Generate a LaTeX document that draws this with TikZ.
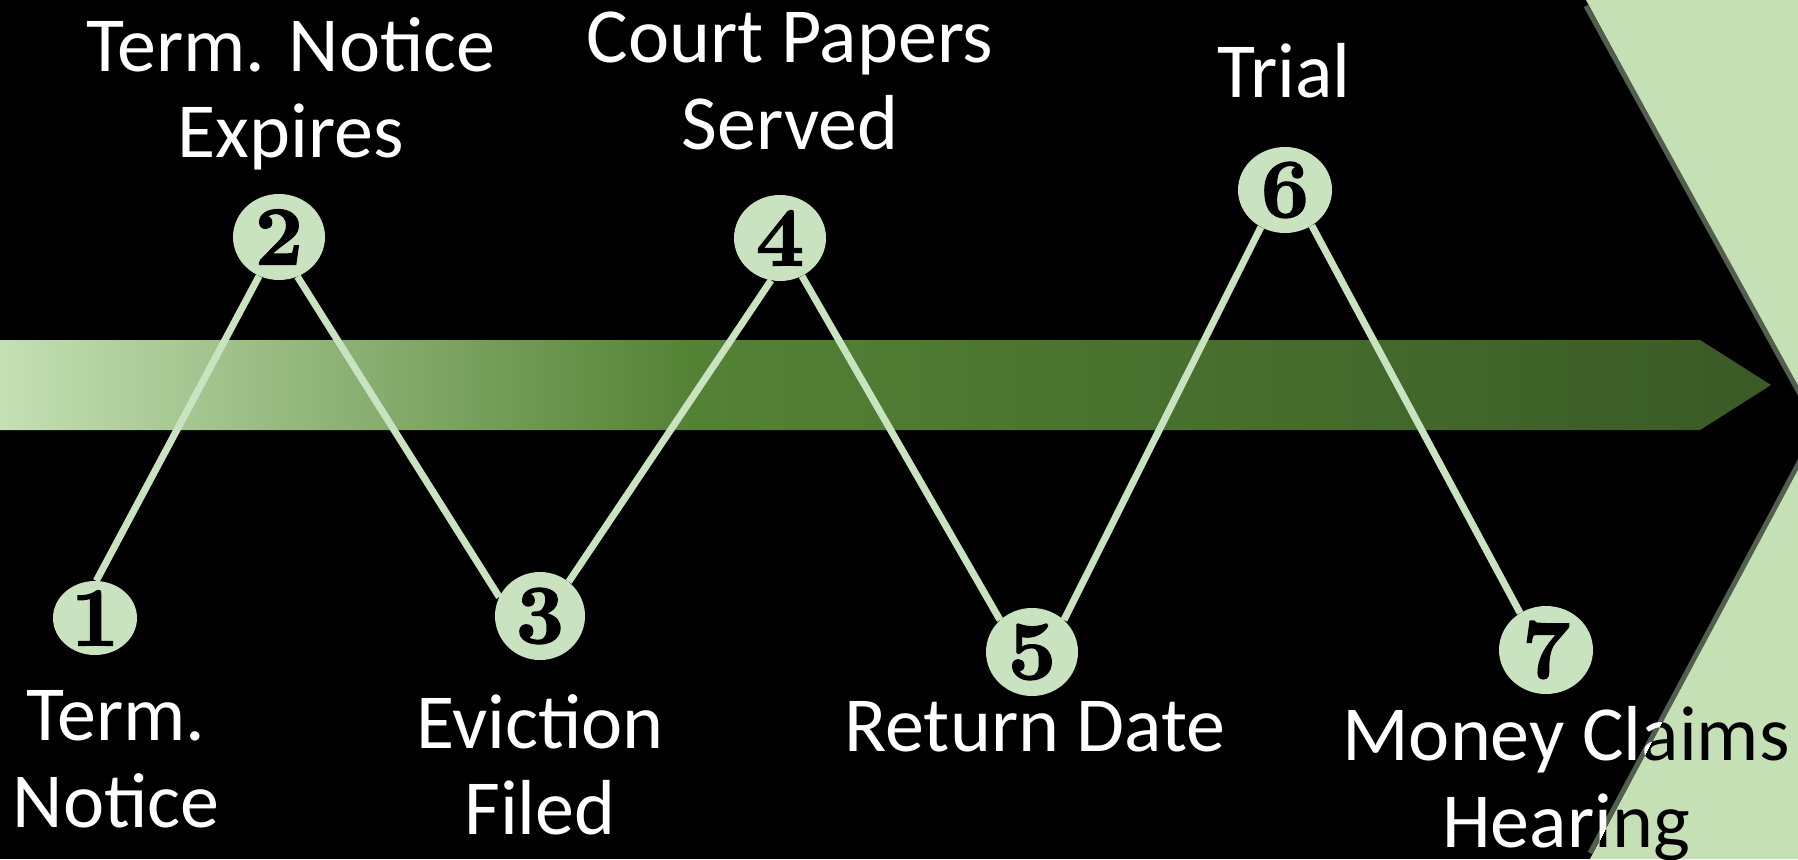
\documentclass[tikz,border=0pt]{standalone}
\usepackage{fontspec}
\setsansfont{Carlito}
\newfontfamily\numfont{lmroman10-bold.otf}[FakeBold=1.6]
\usetikzlibrary{shapes.geometric}

\definecolor{dotgreen}{HTML}{C9E3C1}
\definecolor{chevfill}{HTML}{C5E0B4}
\definecolor{chevedge}{HTML}{525F4E}
\definecolor{bandL}{HTML}{C5E0B4}
\definecolor{bandM}{HTML}{548235}
\definecolor{bandD}{HTML}{3A5A26}

% band colour runs light -> mid green -> dark green from left to right
\pgfdeclarehorizontalshading{bandshade}{100bp}{color(0bp)=(bandL); color(25bp)=(bandL); color(44.5bp)=(bandM); color(75bp)=(bandD); color(100bp)=(bandD)}

\pgfdeclarelayer{back}
\pgfdeclarelayer{links}
\pgfsetlayers{back,links,main}

\begin{document}
\begin{tikzpicture}[x=1pt,y=-1pt,
  caption/.style={text=white, font=\sffamily\fontsize{78}{87}\selectfont, anchor=base, inner sep=0pt},
  captiondark/.style={caption, text=black},
  stepdot/.style={ellipse, fill=dotgreen, inner sep=0pt},
  stepnum/.style={font=\numfont\fontsize{84}{84}\selectfont, text=black, inner sep=0pt},
  link/.style={draw=dotgreen, line width=7pt}]

\useasboundingbox (0,0) rectangle (1798,859);

% chevron corners at the right edge
\coordinate (chtop) at (1586,0);
\coordinate (chtip) at (1818,427);
\coordinate (chbot) at (1590,859);

\begin{pgfonlayer}{back}
  \clip (0,0) rectangle (1798,859);
  \fill[black] (0,0) rectangle (1798,859);
  % timeline band with its pointed end
  \shade[shading=bandshade] (0,340) -- (1700,340) -- (1771,385) -- (1700,430) -- (0,430) -- cycle;
  % chevron
  \fill[chevfill] (chtop) -- (chtip) -- (chbot) -- (1900,859) -- (1900,0) -- cycle;
  \draw[chevedge, line width=5pt] ([yshift=-6pt]chtop) -- (chtip) -- ([yshift=6pt]chbot);
\end{pgfonlayer}

% step markers
\node[stepdot, minimum width=84pt, minimum height=74pt] (c1) at (95,618) {};
\node[stepdot, minimum width=92pt, minimum height=86pt] (c2) at (279,237) {};
\node[stepdot, minimum width=90pt, minimum height=88pt] (c3) at (540,616) {};
\node[stepdot, minimum width=92pt, minimum height=86pt] (c4) at (780,238) {};
\node[stepdot, minimum width=92pt, minimum height=88pt] (c5) at (1032,652) {};
\node[stepdot, minimum width=94pt, minimum height=86pt] (c6) at (1285,190) {};
\node[stepdot, minimum width=94pt, minimum height=88pt] (c7) at (1546,650) {};

\node[stepnum] (d1) at (c1) {1};
\node[stepnum] (d2) at (c2) {2};
\node[stepnum] (d3) at (c3) {3};
\node[stepnum] (d4) at (c4) {4};
\node[stepnum] (d5) at (c5) {5};
\node[stepnum] (d6) at (c6) {6};
\node[stepnum] (d7) at (c7) {7};

% zigzag connectors, kept under the markers
\begin{pgfonlayer}{links}
  \path[link] (c1.88) -- (c2.243);
  \path[link] (c2.295) -- (c3.155);
  \path[link] (c3.50) -- (c4.258);
  \path[link] (c4.300) -- (c5.135);
  \path[link] (c5.45) -- (c6.237);
  \path[link] (c6.307) -- (c7.125);
\end{pgfonlayer}

% step captions
\node[caption] (t1a) at (116,740) {Term.};
\node[caption] (t1b) at (116,827) {Notice};
\node[caption] (t2a) at (291,71) {Term. Notice};
\node[caption] (t2b) at (291,157) {Expires};
\node[caption] (t3a) at (540,748) {Eviction};
\node[caption] (t3b) at (540,834) {Filed};
\node[caption] (t4a) at (790,63) {Court Papers};
\node[caption] (t4b) at (790,149) {Served};
\node[caption] (t5a) at (1035,751) {Return Date};
\node[caption] (t6a) at (1284,97) {Trial};
\node[caption] (t7a) at (1566,760) {Money Claims};
\node[caption] (t7b) at (1566,847) {Hearing};

% where the last caption runs over the chevron it is set in black
\begin{scope}
  \clip (chtop) -- (chtip) -- (chbot) -- (1900,859) -- (1900,0) -- cycle;
  \node[captiondark] (t7ad) at (1566,760) {Money Claims};
  \node[captiondark] (t7bd) at (1566,847) {Hearing};
\end{scope}
\end{tikzpicture}
\end{document}
